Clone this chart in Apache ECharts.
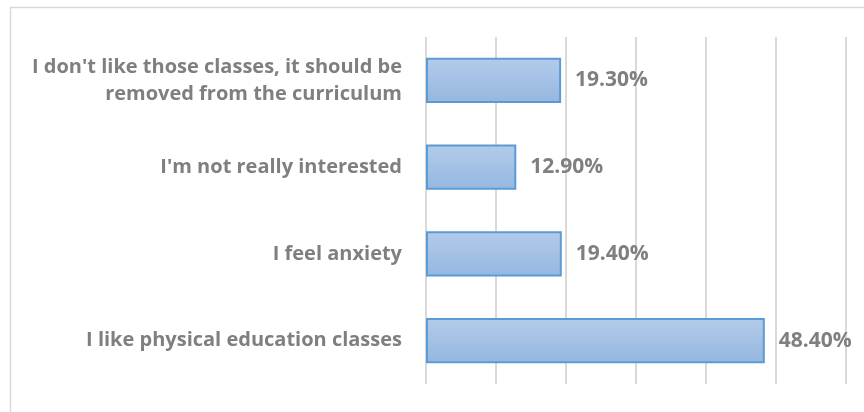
<!DOCTYPE html>
<html>
<head>
<meta charset="utf-8">
<script src="https://cdn.jsdelivr.net/npm/echarts@6/dist/echarts.min.js"></script>
<style>html,body{margin:0;padding:0;background:#fff}#c{width:864px;height:412px}</style>
</head>
<body>
<div id="c"></div>
<script>
const categories = [
  "I like physical education classes",
  "I feel anxiety",
  "I'm not really interested",
  "I don't like those classes, it should be\nremoved from the curriculum"
];
const values = [48.4, 19.4, 12.9, 19.3];
const axisMin = 0, axisMax = 60, axisStep = 10;

const chart = echarts.init(document.getElementById('c'));
chart.setOption({
  backgroundColor: '#fff',
  animation: false,
  graphic: [{
    type: 'rect',
    shape: { x: 10.5, y: 7.5, width: 900, height: 500 },
    style: { fill: 'none', stroke: '#d9d9d9', lineWidth: 1.5 },
    silent: true, z: -1
  }],
  grid: { left: 426, right: 18, top: 37, bottom: 28, containLabel: false },
  xAxis: {
    type: 'value', min: axisMin, max: axisMax, interval: axisStep,
    axisLabel: { show: false }, axisLine: { show: false }, axisTick: { show: false },
    splitLine: { lineStyle: { color: '#d9d9d9', width: 2 } }
  },
  yAxis: {
    type: 'category', data: categories,
    axisLine: { show: false }, axisTick: { show: false },
    axisLabel: {
      color: '#7f7f7f', fontFamily: 'Open Sans', fontWeight: 'bold', fontSize: 20,
      lineHeight: 27, margin: 24, align: 'right'
    }
  },
  series: [{
    type: 'bar', data: values, barCategoryGap: '48%',
    itemStyle: {
      color: new echarts.graphic.LinearGradient(0, 0, 0, 1, [
        { offset: 0, color: '#b3cbea' },
        { offset: 1, color: '#95b7e0' }
      ]),
      borderColor: '#5b9bd5', borderWidth: 2
    },
    label: {
      show: true, position: 'right', distance: 14,
      color: '#7f7f7f', fontFamily: 'Open Sans', fontWeight: 'bold', fontSize: 21,
      formatter: p => p.value.toFixed(2) + '%'
    }
  }]
});
</script>
</body>
</html>
